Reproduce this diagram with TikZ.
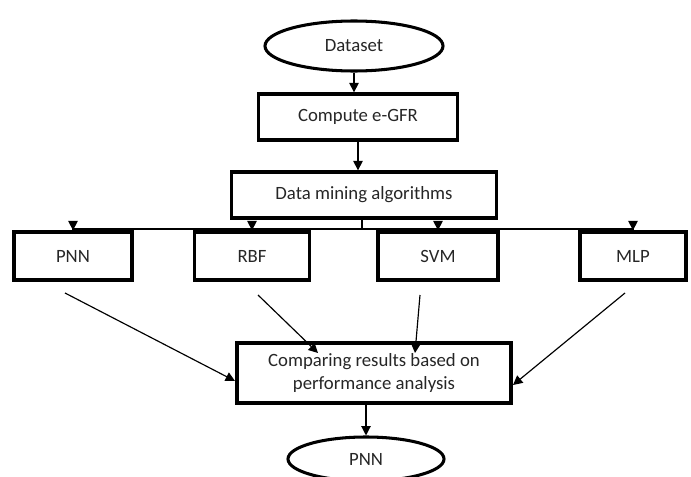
\documentclass[tikz,border=0pt]{standalone}
\usepackage{fontspec}
\setmainfont{Carlito}
\usetikzlibrary{shapes.geometric,arrows.meta}
\tikzset{
  box/.style={draw, line width=2.8pt, rectangle, inner sep=2pt, align=center, font=\fontsize{16}{20}\selectfont, text=black!85},
  oval/.style={draw, line width=2.6pt, ellipse, inner sep=0pt, font=\fontsize{16}{20}\selectfont, text=black!85},
  arr/.style={line width=1pt, -{Triangle[width=8pt,length=8pt]}},
  ln/.style={line width=1pt}
}
\begin{document}
\begin{tikzpicture}[x=0.03cm,y=-0.03cm]
\useasboundingbox (0,0) rectangle (691,477);
\node[oval, minimum width=5.34cm, minimum height=1.5cm] (ds) at (354,46) {Dataset};
\node[box, minimum width=5.97cm, minimum height=1.38cm] (eg) at (358,117) {Compute e-GFR};
\node[box, minimum width=7.95cm, minimum height=1.38cm] (dm) at (364,195) {Data mining algorithms};
\node[box, minimum width=3.54cm, minimum height=1.44cm] (pnn) at (73,256) {PNN};
\node[box, minimum width=3.45cm, minimum height=1.44cm] (rbf) at (252,256) {RBF};
\node[box, minimum width=3.6cm, minimum height=1.44cm] (svm) at (438,256) {SVM};
\node[box, minimum width=3.18cm, minimum height=1.44cm] (mlp) at (633,256) {MLP};
\node[box, minimum width=8.22cm, minimum height=1.8cm] (cmp) at (374,373) {Comparing results based on\\performance analysis};
\node[oval, minimum width=4.68cm, minimum height=1.32cm] (out) at (366,459) {PNN};
\coordinate (j) at (362,229);
\coordinate (s1) at (65,293);
\coordinate (s2) at (258,295);
\coordinate (s3) at (420,295);
\coordinate (s4) at (625,293);
\coordinate (e1) at (235,381);
\coordinate (e2) at (318,353);
\coordinate (e3) at (415,353);
\coordinate (e4) at (513,385);
\draw[arr] (ds.south) -- (ds.south |- eg.north);
\draw[arr] (eg.south) -- (eg.south |- dm.north);
\draw[ln] (j |- dm.south) -- (j);
\draw[arr] (j) -| (pnn.north);
\draw[arr] (j) -| (rbf.north);
\draw[arr] (j) -| (svm.north);
\draw[arr] (j) -| (mlp.north);
\draw[arr] (s1) -- (e1);
\draw[arr] (s2) -- (e2);
\draw[arr] (s3) -- (e3);
\draw[arr] (s4) -- (e4);
\draw[arr] (cmp.south -| out) -- (out.north);
\end{tikzpicture}
\end{document}
